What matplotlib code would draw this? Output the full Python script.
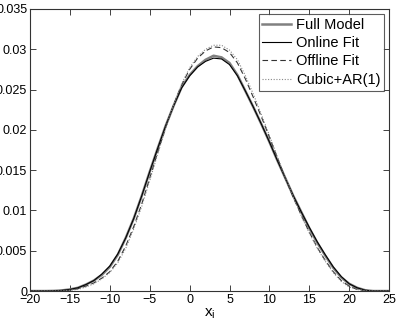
import numpy as np
import matplotlib
matplotlib.use("Agg")
import matplotlib.pyplot as plt

plt.rcParams["font.family"] = ["Liberation Sans", "DejaVu Sans"]
plt.rcParams["mathtext.fontset"] = "custom"
plt.rcParams["mathtext.rm"] = "Liberation Sans"

# density estimates, x = -20..25 step 1
xs = list(range(-20, 26))
full_model = [0, 0, 0, 0.00002, 0.00008, 0.0002, 0.0004, 0.0008, 0.0013, 0.0020,
              0.0030, 0.0045, 0.0066, 0.0090, 0.0118, 0.0148, 0.0177, 0.0205, 0.0230, 0.0253,
              0.0268, 0.0279, 0.0287, 0.0292, 0.0290, 0.0283, 0.0268, 0.0248, 0.0228, 0.0207,
              0.0185, 0.0162, 0.0140, 0.0118, 0.0098, 0.0078, 0.0060, 0.0044, 0.0029, 0.0017,
              0.0009, 0.0004, 0.0001, 0, 0, 0]
online_fit = [0, 0, 0, 0.00002, 0.00008, 0.0002, 0.0004, 0.0008, 0.0013, 0.0021,
              0.0031, 0.0046, 0.0066, 0.0090, 0.0118, 0.0148, 0.0177, 0.0205, 0.0230, 0.0252,
              0.0267, 0.0278, 0.0285, 0.0289, 0.0288, 0.0281, 0.0267, 0.0248, 0.0228, 0.0207,
              0.0185, 0.0162, 0.0140, 0.0118, 0.0098, 0.0079, 0.0061, 0.0045, 0.0030, 0.0018,
              0.0009, 0.0004, 0.0001, 0, 0, 0]
offline_fit = [0, 0, 0, 0, 0.00003, 0.0001, 0.0003, 0.0006, 0.0010, 0.0016,
               0.0024, 0.0037, 0.0056, 0.0080, 0.0108, 0.0140, 0.0172, 0.0203, 0.0231, 0.0256,
               0.0275, 0.0289, 0.0298, 0.0303, 0.0302, 0.0296, 0.0283, 0.0263, 0.0240, 0.0216,
               0.0191, 0.0165, 0.0140, 0.0116, 0.0094, 0.0073, 0.0054, 0.0038, 0.0024, 0.0013,
               0.0006, 0.0002, 0.00005, 0, 0, 0]
cubic_ar1 = [0, 0, 0, 0, 0.00002, 0.0001, 0.0002, 0.0005, 0.0009, 0.0015,
             0.0023, 0.0035, 0.0053, 0.0077, 0.0105, 0.0137, 0.0170, 0.0202, 0.0231, 0.0257,
             0.0277, 0.0291, 0.0300, 0.0305, 0.0305, 0.0299, 0.0287, 0.0267, 0.0244, 0.0219,
             0.0193, 0.0167, 0.0141, 0.0116, 0.0093, 0.0072, 0.0053, 0.0037, 0.0023, 0.0012,
             0.0005, 0.0002, 0.00004, 0, 0, 0]

fig = plt.figure(figsize=(3.99, 3.27), dpi=100)
ax = fig.add_axes([0.0752, 0.110, 0.900, 0.8625])

ax.plot(xs, full_model, color="#808080", lw=1.8, label="Full Model")
ax.plot(xs, online_fit, color="black", lw=0.8, label="Online Fit")
ax.plot(xs, offline_fit, color="#333333", lw=0.8, ls=(0, (5, 3)), label="Offline Fit")
ax.plot(xs, cubic_ar1, color="#888888", lw=0.8, ls=(0, (1, 1.5)), label="Cubic+AR(1)")

ax.set_xlim(-20, 25)
ax.set_ylim(0, 0.035)
ax.set_xticks(range(-20, 26, 5))
ax.set_xticklabels(["\u221220", "\u221215", "\u221210", "\u22125", "0", "5", "10", "15", "20", "25"])
ax.set_yticks([0, 0.005, 0.01, 0.015, 0.02, 0.025, 0.03, 0.035])
ax.set_yticklabels(["0", "0.005", "0.01", "0.015", "0.02", "0.025", "0.03", "0.035"])
ax.tick_params(direction="in", top=True, right=True, length=4, width=0.6,
               labelsize=9, pad=2, colors="#222222", labelcolor="black")
for s in ax.spines.values():
    s.set_linewidth(0.8)
    s.set_color("#333333")
ax.set_xlabel(r"$\mathrm{x}_\mathrm{i}$", fontsize=11, labelpad=0)

leg = ax.legend(loc="upper right", fontsize=10.5, handlelength=2.0, handletextpad=0.3,
                borderpad=0.25, labelspacing=0.3, borderaxespad=0.35, fancybox=False)
leg.get_frame().set_edgecolor("#333333")
leg.get_frame().set_linewidth(0.8)

fig.savefig("out.png", dpi=100)
